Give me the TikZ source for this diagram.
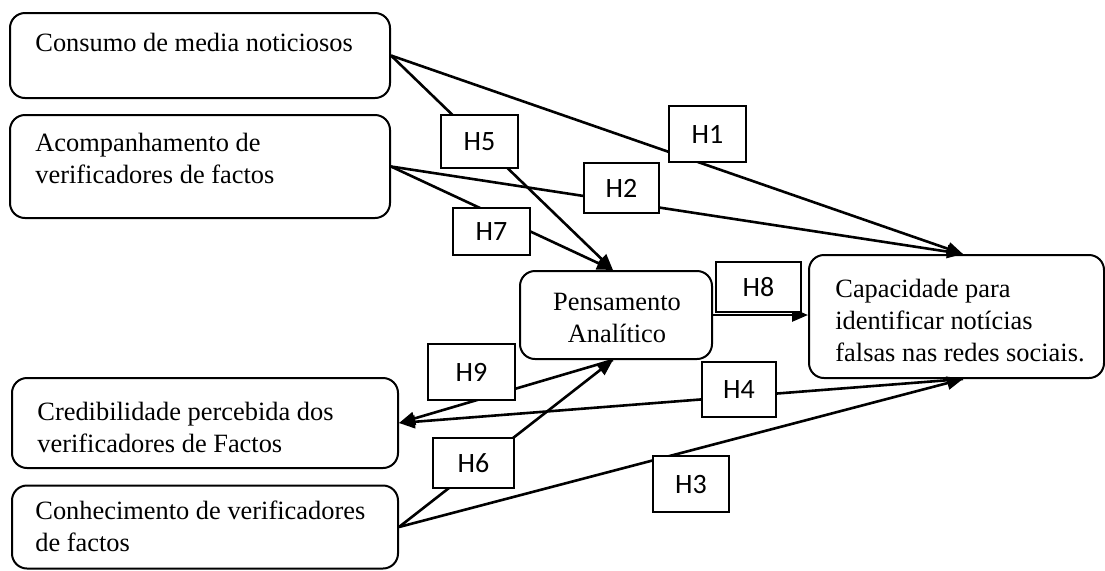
\documentclass[tikz,border=0pt]{standalone}
\usepackage{fontspec}
\setmainfont{Liberation Serif}
\newfontfamily\hfont{Carlito}
\usetikzlibrary{arrows.meta}
\begin{document}
\begin{tikzpicture}[x=0.5pt,y=-0.5pt,
 box/.style={draw,line width=1pt,rounded corners=7.5pt,inner sep=0},
 txt/.style={inner sep=0,anchor=north west,align=left,font=\fontsize{13.2}{16}\selectfont},
 hyp/.style={draw,fill=white,line width=0.9pt,inner sep=0,font=\hfont\fontsize{14}{16}\selectfont},
 conn/.style={line width=1.3pt},
 arr/.style={conn,-{Triangle[length=8pt,width=6.5pt]}}]
\useasboundingbox[fill=white] (0,0) rectangle (1105,570);
% boxes
\node[box,minimum width=190pt,minimum height=42.5pt] (cons) at (200,55.5) {};
\node[box,minimum width=190pt,minimum height=51.5pt] (acomp) at (200,166.5) {};
\node[box,minimum width=96pt,minimum height=44pt] (pens) at (616,315) {};
\node[box,minimum width=147.5pt,minimum height=61.5pt] (cap) at (956.5,316.5) {};
\node[box,minimum width=193pt,minimum height=45pt] (cred) at (205,423) {};
\node[box,minimum width=193pt,minimum height=41.5pt] (conh) at (205,527) {};
% texts
\node[txt] (tcons) at (35,28.6) {\strut Consumo de media noticiosos};
\node[txt] (tacomp) at (35,128.6) {\strut Acompanhamento de\\verificadores de factos};
\node[txt,anchor=north,align=center] (tpens) at (617,288.1) {\strut Pensamento\\Analítico};
\node[txt] (tcap) at (835,275.1) {\strut Capacidade para\\identificar notícias\\falsas nas redes sociais.};
\node[txt] (tcred) at (37,397.6) {\strut Credibilidade percebida dos\\verificadores de Factos};
\node[txt] (tconh) at (35,496.6) {\strut Conhecimento de verificadores\\de factos};
% connectors
\coordinate (captop) at ([xshift=3.25pt]cap.north);
\coordinate (capbot) at ([xshift=3.25pt]cap.south);
\coordinate (pentop) at ([xshift=-1.5pt]pens.north);
\coordinate (penbot) at ([xshift=-1.5pt]pens.south);
\draw[arr] (cons.east) -- (captop);
\draw[arr] (cons.east) -- (pentop);
\draw[arr] (acomp.east) -- (captop);
\draw[arr] (acomp.east) -- (pentop);
\draw[arr] (pens.east) -- (pens.east -| cap.west);
\draw[arr] (penbot) -- (cred.east);
\draw[arr] (capbot) -- (cred.east);
\draw[arr] (conh.east) -- (penbot);
\draw[arr] (conh.east) -- (capbot);
% hypothesis labels
\node[hyp,minimum width=38.5pt,minimum height=28pt] (h1) at (707.5,134) {H1};
\node[hyp,minimum width=38.5pt,minimum height=26.5pt] (h5) at (479.5,141.5) {H5};
\node[hyp,minimum width=37.5pt,minimum height=25pt] (h2) at (621.5,188) {H2};
\node[hyp,minimum width=38.5pt,minimum height=23.5pt] (h7) at (491.5,231.5) {H7};
\node[hyp,minimum width=42.5pt,minimum height=25pt] (h8) at (758.5,287) {H8};
\node[hyp,minimum width=37pt,minimum height=27.5pt] (h4) at (739,389.5) {H4};
\node[hyp,minimum width=43.5pt,minimum height=28pt] (h9) at (471.5,372) {H9};
\node[hyp,minimum width=40.5pt,minimum height=25pt] (h6) at (473.5,463) {H6};
\node[hyp,minimum width=38pt,minimum height=28pt] (h3) at (691,484) {H3};
\end{tikzpicture}
\end{document}
